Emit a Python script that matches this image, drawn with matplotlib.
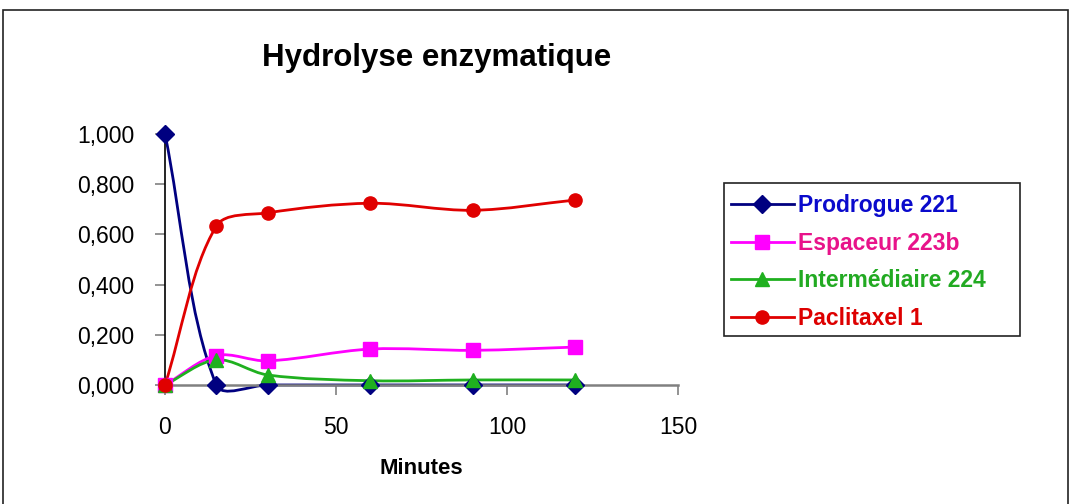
import matplotlib
matplotlib.use('Agg')
import matplotlib.pyplot as plt
import numpy as np
from matplotlib.path import Path
from matplotlib.patches import PathPatch, Rectangle
from matplotlib.lines import Line2D
from matplotlib.ticker import FuncFormatter

plt.rcParams['font.family'] = ['Liberation Sans', 'DejaVu Sans']

# temps de prélèvement (minutes)
minutes = [0, 15, 30, 60, 90, 120]

# fractions mesurées pour chaque espèce
prodrogue_221 = [1.000, 0.000, 0.000, 0.000, 0.000, 0.000]
espaceur_223b = [0.000, 0.117, 0.096, 0.143, 0.138, 0.151]
intermediaire_224 = [0.000, 0.100, 0.040, 0.017, 0.020, 0.020]
paclitaxel_1 = [0.000, 0.633, 0.686, 0.724, 0.696, 0.737]

noms = ['Prodrogue 221', 'Espaceur 223b', 'Intermédiaire 224', 'Paclitaxel 1']
series = [prodrogue_221, espaceur_223b, intermediaire_224, paclitaxel_1]
couleurs = ['#000080', '#FF00FF', '#1FB01F', '#E00000']
couleurs_texte = ['#0A0ACC', '#E8138A', '#22AA22', '#DD0000']
marqueurs = ['D', 's', '^', 'o']
tailles = [9, 10, 10, 9.5]


def courbe_lissee(xs, ys, sx, sy):
    """Courbe de Bézier lissée passant par les points (style tableur)."""
    p = np.column_stack([np.asarray(xs, float) * sx, np.asarray(ys, float) * sy])
    n = len(p)
    verts = [p[0]]
    codes = [Path.MOVETO]
    for i in range(n - 1):
        p0 = p[i - 1] if i > 0 else p[i]
        p1, p2 = p[i], p[i + 1]
        p3 = p[i + 2] if i + 2 < n else p[i + 1]
        d01 = np.hypot(*(p1 - p0))
        d12 = np.hypot(*(p2 - p1))
        d23 = np.hypot(*(p3 - p2))
        f1 = d12 / (d01 + d12) / 3 if d01 + d12 > 0 else 0
        f2 = d12 / (d12 + d23) / 3 if d12 + d23 > 0 else 0
        c1 = p1 + (p2 - p0) * f1
        c2 = p2 - (p3 - p1) * f2
        verts += [c1, c2, p2]
        codes += [Path.CURVE4] * 3
    verts = np.array(verts)
    verts[:, 0] /= sx
    verts[:, 1] /= sy
    return Path(verts, codes)


fig = plt.figure(figsize=(10.72, 5.04), dpi=100)
W, H = 1072, 504

# cadre extérieur
fig.patches.append(Rectangle((3 / W, -0.05), 1065 / W, 1.05 - 10 / H,
                             transform=fig.transFigure, fill=False,
                             edgecolor='#222222', linewidth=1.2))

ax = fig.add_axes([165 / W, (H - 392.5) / H, 513 / W, (392.5 - 134) / H])
ax.set_xlim(0, 150)
ax.set_ylim(-0.03, 1.0)

# échelle en pixels pour le lissage
sx = 513 / 150
sy = 251 / 1.0

for ys, nom, c, m, t in zip(series, noms, couleurs, marqueurs, tailles):
    ax.add_patch(PathPatch(courbe_lissee(minutes, ys, sx, sy), fill=False,
                           edgecolor=c, linewidth=2.0, zorder=2))
    ax.plot(minutes, ys, linestyle='none', marker=m, markersize=t,
            color=c, clip_on=False, zorder=3)

for s in ['top', 'right']:
    ax.spines[s].set_visible(False)
ax.spines['bottom'].set_position(('data', 0))
ax.spines['bottom'].set_color('#808080')
ax.spines['bottom'].set_linewidth(1.8)
ax.spines['left'].set_bounds(0, 1)
ax.spines['left'].set_linewidth(1.2)

ax.set_xticks([0, 50, 100, 150])
ax.set_yticks(np.arange(0, 1.01, 0.2))
ax.yaxis.set_major_formatter(FuncFormatter(lambda v, p: f'{v:.3f}'.replace('.', ',')))
ax.tick_params(axis='y', direction='out', length=7, width=1.2, color='#808080',
               labelsize=16.5, pad=15)
ax.tick_params(axis='x', direction='out', length=7, width=1.2, color='#808080',
               labelsize=16.5, pad=15)

ax.set_xlabel('Minutes', fontsize=16, fontweight='bold', labelpad=14)
fig.text(437 / W, 1 - 58 / H, 'Hydrolyse enzymatique', fontsize=22.5,
         fontweight='bold', ha='center', va='center')

# légende : cadre dessiné à part
fig.patches.append(Rectangle((724 / W, 1 - 336 / H), 296 / W, 153 / H,
                             transform=fig.transFigure, fill=False,
                             edgecolor='#222222', linewidth=1.2))
handles = [Line2D([], [], color=c, marker=m, markersize=t, linewidth=2.0)
           for c, m, t in zip(couleurs, marqueurs, tailles)]
leg = fig.legend(handles, noms, loc='upper left',
                 bbox_to_anchor=(724 / W, 1 - 187 / H),
                 prop={'size': 16.5, 'weight': 'bold'},
                 frameon=False,
                 handlelength=2.75, handletextpad=0.2, labelspacing=0.64,
                 borderpad=0.3, borderaxespad=0)
for txt, c in zip(leg.get_texts(), couleurs_texte):
    txt.set_color(c)

plt.savefig('out.png', dpi=100)
plt.close()
